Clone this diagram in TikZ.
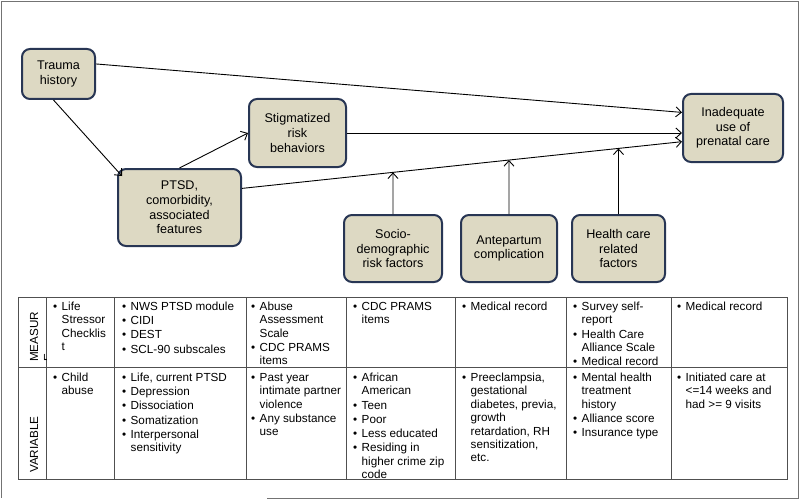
\documentclass[tikz,border=0pt]{standalone}
\usepackage{fontspec}
\setmainfont{Liberation Sans}
\usepackage{xcolor}
\usetikzlibrary{positioning,calc,arrows.meta}

\definecolor{boxfill}{RGB}{221,217,195}
\definecolor{boxline}{RGB}{40,54,84}
\definecolor{gridline}{RGB}{80,80,80}
\definecolor{framegray}{RGB}{115,115,115}

\newcommand{\itm}{\makebox[8.5pt][l]{\textbullet}}
\newcommand{\ind}{\hspace*{8.5pt}}
\newcommand{\nx}{\\[0.8pt]}

\tikzset{
  factor/.style={draw=boxline, fill=boxfill, line width=2pt, rounded corners=8pt,
    align=center, inner sep=2pt, font=\fontsize{12.6}{14.7}\selectfont},
  cell/.style={anchor=north west, inner sep=0pt, align=left,
    font=\fontsize{11.7}{13.4}\selectfont},
  rowhead/.style={rotate=90, anchor=north west, inner sep=0pt, align=left,
    font=\fontsize{11.7}{14}\selectfont},
}

\begin{document}
\begin{tikzpicture}[x=1pt,y=-1pt,>={Straight Barb[length=5.5pt,width=10pt]}]
\useasboundingbox (0,0) rectangle (800,500);
\draw[framegray, line width=1.2pt] (267,498.3) -- (798.6,498.3) -- (798.6,1.3) -- (1.3,1.3) -- (1.3,498.3);

% factors
\node[factor, minimum width=73pt, minimum height=50pt] (trauma) at (58.5,74) {Trauma\\history};
\node[factor, minimum width=97pt, minimum height=68pt] (stigma) at (297.5,133) {Stigmatized\\risk\\behaviors};
\node[factor, minimum width=123pt, minimum height=77pt] (ptsd) at (179.5,207.5) {PTSD,\\comorbidity,\\associated\\features};
\node[factor, minimum width=100pt, minimum height=68pt] (inad) at (733,128) {Inadequate\\use of\\prenatal care};
\node[factor, minimum width=98pt, minimum height=67pt] (socio) at (393,248.5) {Socio-\\demographic\\risk factors};
\node[factor, minimum width=96pt, minimum height=67pt] (ante) at (509,248.5) {Antepartum\\complication};
\node[factor, minimum width=93pt, minimum height=67pt] (hcare) at (618.5,248.5) {Health care\\related\\factors};

% paths
\coordinate (pa) at (ptsd.17);
\coordinate (pb) at (inad.195);
\draw[->, line width=0.9pt] (trauma.15) -- (inad.163);
\draw[->, line width=0.9pt] (stigma.east) -- (stigma.east -| inad.west);
\draw[->, line width=0.9pt] (pa) -- (pb);
\draw[->, line width=0.9pt] ([xshift=-5pt]trauma.south) -- ($(ptsd.north west)+(5,8)$);
\draw[->, line width=0.9pt] (ptsd.north) -- (stigma.west);
\draw[->, line width=0.9pt] (socio.north) -- (intersection of pa--pb and socio.north--socio.south);
\draw[->, line width=0.9pt] (ante.north) -- (intersection of pa--pb and ante.north--ante.south);
\draw[->, line width=0.9pt] (hcare.north) -- (intersection of pa--pb and hcare.north--hcare.south);

% table
\draw[gridline, line width=0.9pt] (18,297) rectangle (787,479);
\draw[gridline, line width=0.9pt] (18,367) -- (787,367);
\foreach \cx in {46,114,246,346,455,566,671}
  \draw[gridline, line width=0.9pt] (\cx,297) -- (\cx,479);

\begin{scope}
\clip (18,297) rectangle (46,367);
\node[rowhead] (measure) at (28,362) {\strut MEASUR\\E};
\end{scope}
\node[rowhead] (variable) at (28,473) {\strut VARIABLE};

% measures
\node[cell] (m1) at (53,301) {\strut\itm Life\\\ind Stressor\\\ind Checklis\\\ind t};
\node[cell] (m2) at (122,301) {\strut\itm NWS PTSD module\nx\itm CIDI\nx\itm DEST\nx\itm SCL-90 subscales};
\node[cell] (m3) at (251,301) {\strut\itm Abuse\\\ind Assessment\\\ind Scale\nx\itm CDC PRAMS\\\ind items};
\node[cell] (m4) at (353,301) {\strut\itm CDC PRAMS\\\ind items};
\node[cell] (m5) at (462,301) {\strut\itm Medical record};
\node[cell] (m6) at (573,301) {\strut\itm Survey self-\\\ind report\nx\itm Health Care\\\ind Alliance Scale\nx\itm Medical record};
\node[cell] (m7) at (677,301) {\strut\itm Medical record};

% variables
\node[cell] (v1) at (53,372) {\strut\itm Child\\\ind abuse};
\node[cell] (v2) at (122,372) {\strut\itm Life, current PTSD\nx\itm Depression\nx\itm Dissociation\nx\itm Somatization\nx\itm Interpersonal\\\ind sensitivity};
\node[cell] (v3) at (251,372) {\strut\itm Past year\\\ind intimate partner\\\ind violence\nx\itm Any substance\\\ind use};
\node[cell] (v4) at (353,372) {\strut\itm African\\\ind American\nx\itm Teen\nx\itm Poor\nx\itm Less educated\nx\itm Residing in\\\ind higher crime zip\\\ind code};
\node[cell] (v5) at (462,372) {\strut\itm Preeclampsia,\\\ind gestational\\\ind diabetes, previa,\\\ind growth\\\ind retardation, RH\\\ind sensitization,\\\ind etc.};
\node[cell] (v6) at (573,372) {\strut\itm Mental health\\\ind treatment\\\ind history\nx\itm Alliance score\nx\itm Insurance type};
\node[cell] (v7) at (677,372) {\strut\itm Initiated care at\\\ind <=14 weeks and\\\ind had >= 9 visits};
\end{tikzpicture}
\end{document}
